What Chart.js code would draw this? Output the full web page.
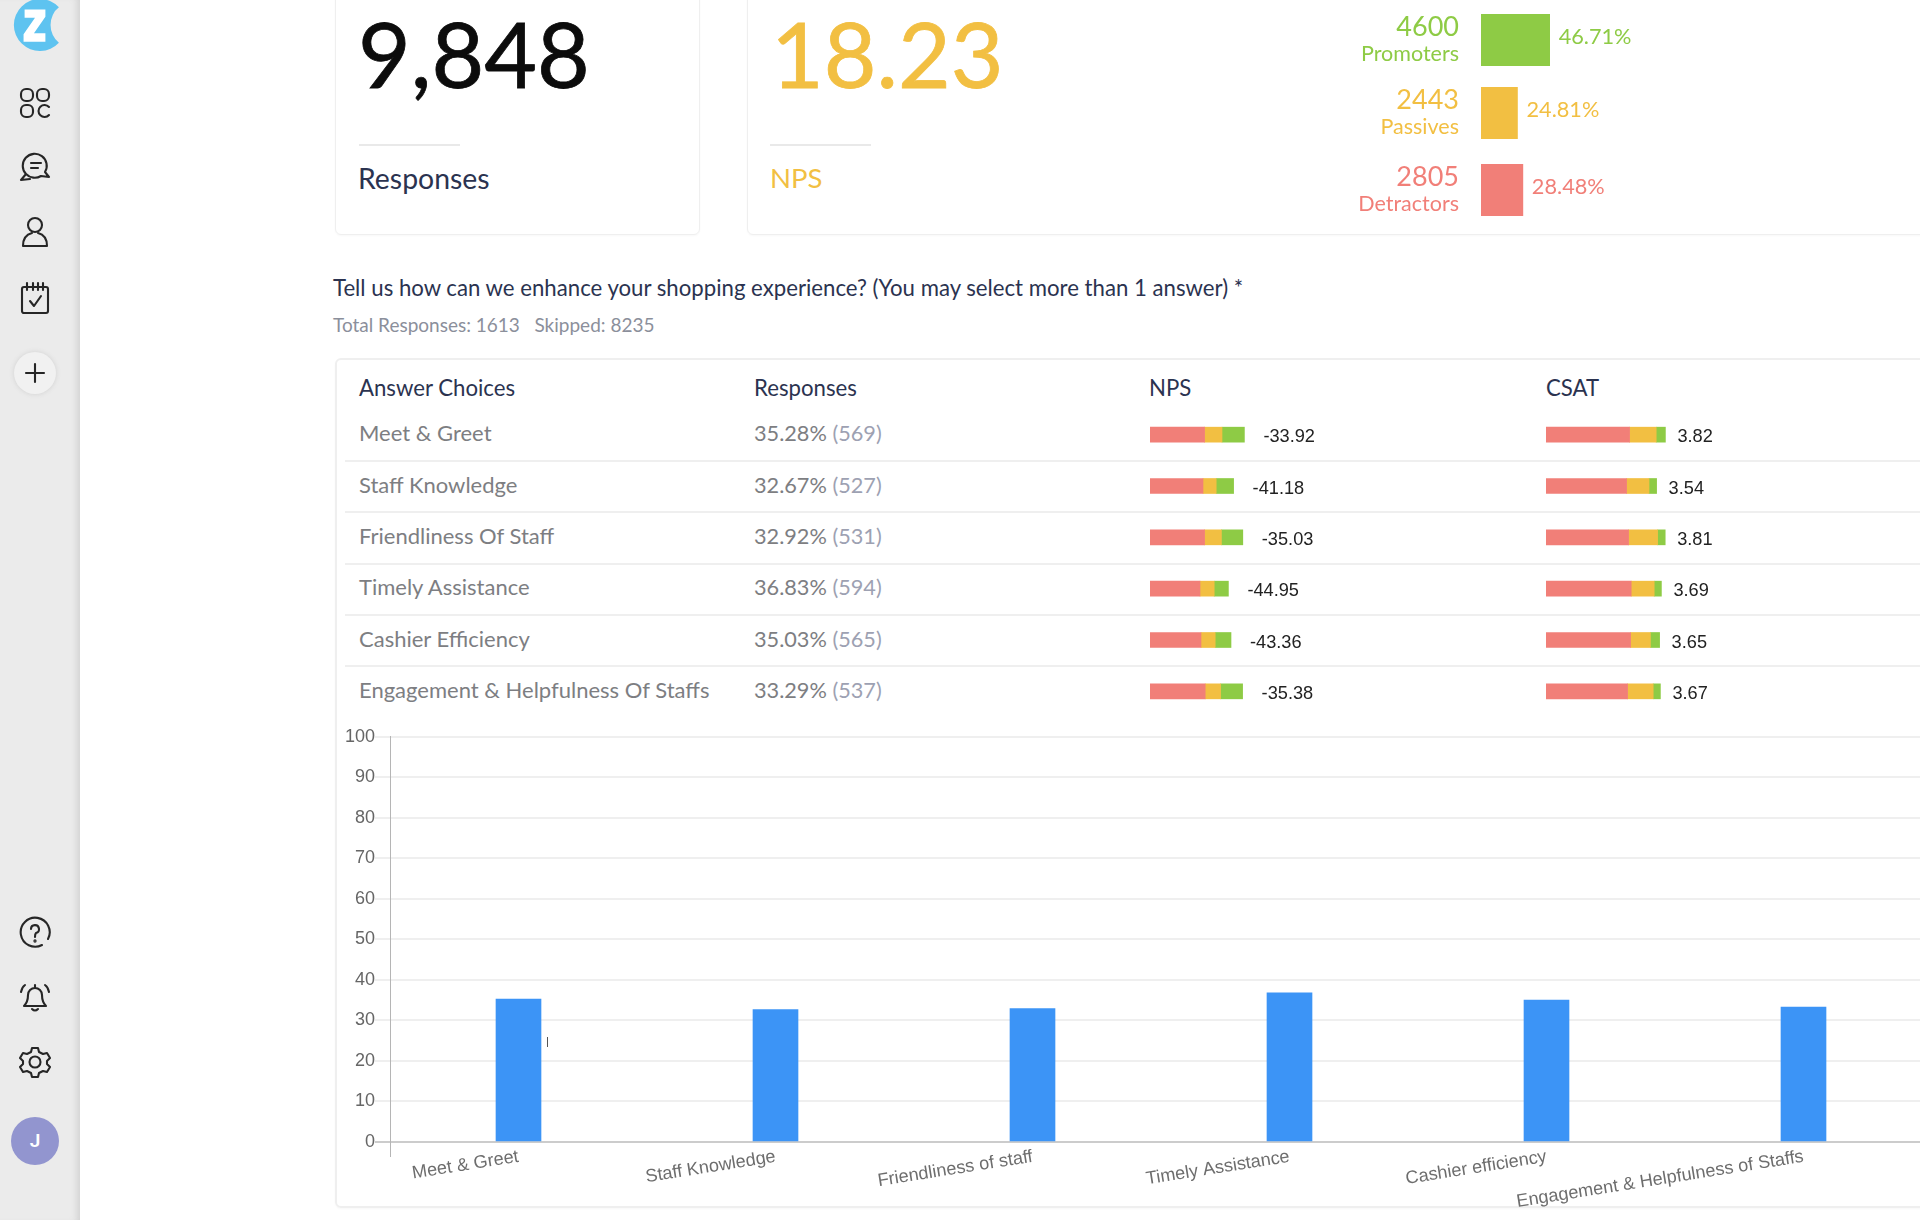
<!DOCTYPE html>
<html>
<head>
<meta charset="utf-8">
<title>Survey report</title>
<script src="https://cdn.jsdelivr.net/npm/chart.js@4"></script>
<style>
    html, body { margin: 0; width: 1920px; height: 1220px; overflow: hidden; background: #fff; font-family: Lato, sans-serif; }
    #page { position: relative; width: 1920px; height: 1220px; overflow: hidden; }
    #page > * { position: absolute; }
    .txt { white-space: nowrap; transform: translateY(-50%); line-height: 1; }
    .card { border: 1px solid #efefef; border-radius: 6px; box-sizing: border-box; box-shadow: 0 1px 2px rgba(0,0,0,.03); }
    .rule { background: #e9e9e9; height: 2px; }
    .sep { background: #efefef; height: 2px; left: 345px; width: 1575px; }
    #sidebar { left: 0; top: 0; width: 80px; height: 1220px; background: #ebebeb; box-shadow: inset -7px 0 6px -4px #d2d2d2; }
    #sidebar svg { position: absolute; left: 18px; width: 34px; height: 34px; fill: none; stroke: #262626; stroke-width: 2.1; stroke-linecap: round; stroke-linejoin: round; }
    canvas { display: block; }
    .big { font-size: 91px; -webkit-text-stroke: 0.8px currentColor; }
    .head { font-size: 22.2px; color: #2b3350; }
    .row { font-size: 22px; color: #7d7e82; }
    .pct { font-size: 21.7px; }
    .cnt { color: #9da1b2; }
    .score { font-family: "Liberation Sans", sans-serif; font-size: 18.2px; color: #222; }
</style>
</head>
<body>
<div id="page">
    <div id="sidebar">
        <svg viewBox="0 0 50 50" style="left:9px;top:-1px;width:52px;height:52px;stroke:none">
            <path d="M48 8 A25 25 0 1 0 48 42 A17 20 0 0 1 48 8 Z" fill="#5ec3f0"/>
            <path d="M15 10 H35 V17 L24 33 H35 V41 H14 V34 L25 18 H15 Z" fill="#fff"/>
        </svg>
        <svg viewBox="0 0 34 34" style="top:86px">
            <rect x="3" y="3" width="12" height="12" rx="5"/><rect x="19" y="3" width="12" height="12" rx="5"/>
            <rect x="3" y="19" width="12" height="12" rx="5"/><path d="M31 21 A6 6 0 1 0 31 29"/>
        </svg>
        <svg viewBox="0 0 34 34" style="top:150px">
            <path d="M8 24 A12 12 0 1 1 27 22 L31 27 L23 26 A12 12 0 0 1 8 24 L3 30 L12 29"/><path d="M13 13 H23 M13 18 H20"/>
        </svg>
        <svg viewBox="0 0 34 34" style="top:215px">
            <circle cx="17" cy="10" r="7"/><path d="M5 31 C5 22 10 19 14 18 M29 31 C29 22 24 19 20 18 M5 31 H29"/>
        </svg>
        <svg viewBox="0 0 34 34" style="top:281px">
            <rect x="4" y="6" width="26" height="26" rx="2"/><path d="M9 2 V9 M15 2 V9 M20 2 V9 M25 2 V9 M12 20 L16 25 L23 15"/>
        </svg>
        <div style="position:absolute;left:14px;top:352px;width:42px;height:42px;border-radius:50%;background:#f1f1f1;box-shadow:0 0 5px #d0d0d0"></div>
        <svg viewBox="0 0 34 34" style="top:356px"><path d="M17 8 V26 M8 17 H26"/></svg>
        <svg viewBox="0 0 34 34" style="top:916px">
            <path d="M24 29 A14.5 14.5 0 1 1 30 23"/><path d="M13 13 A4 4 0 1 1 18 17 Q17 18 17 21"/><circle cx="17" cy="25" r=".6"/>
        </svg>
        <svg viewBox="0 0 34 34" style="top:980px">
            <path d="M6 26 Q10 22 10 15 A7 7 0 0 1 24 15 Q24 22 28 26 Z M14 29 Q17 32 20 29 M17 5 V8 M3 12 Q4 7 7 5 M31 12 Q30 7 27 5"/>
        </svg>
        <svg viewBox="0 0 34 34" style="top:1045px">
            <circle cx="17" cy="17" r="5.5"/>
            <path d="M14 3 H20 L21 7 L25 9 L29 8 L32 13 L29 16 V19 L32 22 L29 27 L25 26 L21 28 L20 32 H14 L13 28 L9 26 L5 27 L2 22 L5 19 V16 L2 13 L5 8 L9 9 L13 7 Z"/>
        </svg>
        <div style="position:absolute;left:11px;top:1117px;width:48px;height:48px;border-radius:50%;background:#9295cf;color:#fff;font:600 19px/48px Roboto,sans-serif;text-align:center">J</div>
    </div>

    <div class="card" style="left:335px;top:-20px;width:365px;height:255px"></div>
    <div class="card" style="left:747px;top:-20px;width:1200px;height:255px"></div>
    <div class="txt big" style="left:358px;top:52px;color:#0c0c0c">9,848</div>
    <div class="rule" style="left:359px;top:144px;width:101px"></div>
    <div class="txt" style="left:358px;top:178px;font-size:28.4px;color:#2b3350">Responses</div>
    <div class="txt big" style="left:771px;top:52px;color:#f2bf42">18.23</div>
    <div class="rule" style="left:770px;top:144px;width:101px"></div>
    <div class="txt" style="left:770px;top:178px;font-size:27.5px;color:#f2bf42">NPS</div>

    <div class="txt" style="left:333px;top:288px;font-size:22.2px;color:#2b3350">Tell us how can we enhance your shopping experience? (You may select more than 1 answer) *</div>
    <div class="txt" style="left:333px;top:324px;font-size:19px;color:#8b8f9b">Total Responses: 1613 &nbsp; Skipped: 8235</div>

    <div class="card" style="left:335px;top:358px;width:1640px;height:850px;border-width:2px"></div>
    <div class="txt head" style="left:359px;top:388px">Answer Choices</div>
    <div class="txt head" style="left:754px;top:388px">Responses</div>
    <div class="txt head" style="left:1149px;top:388px">NPS</div>
    <div class="txt head" style="left:1546px;top:388px">CSAT</div>

    <canvas id="npsChart" width="200" height="308" style="left:1150px;top:409px"></canvas>
    <canvas id="csatChart" width="200" height="308" style="left:1546px;top:409px"></canvas>
    <canvas id="responseChart" width="1587" height="516" style="left:345px;top:726px"></canvas>
    <div style="left:547px;top:1037px;width:1px;height:10px;background:#555"></div>
</div>

<script>
    // answers table
    const answerChoices = ['Meet & Greet', 'Staff Knowledge', 'Friendliness Of Staff', 'Timely Assistance', 'Cashier Efficiency', 'Engagement & Helpfulness Of Staffs'];
    const responsePct = [35.28, 32.67, 32.92, 36.83, 35.03, 33.29];
    const responseCount = [569, 527, 531, 594, 565, 537];
    const npsScores = [-33.92, -41.18, -35.03, -44.95, -43.36, -35.38];
    const csatScores = [3.82, 3.54, 3.81, 3.69, 3.65, 3.67];

    // mini stacked bars
    const npsDetractors = [27.3, 26.5, 27.3, 25.0, 25.5, 27.6];
    const npsPassives = [8.7, 6.6, 8.4, 7.1, 7.1, 7.7];
    const npsPromoters = [11.2, 8.7, 10.7, 7.1, 7.9, 11.0];
    const csatLow = [41.8, 40.3, 41.3, 42.6, 42.3, 40.8];
    const csatMid = [13.3, 11.2, 14.5, 11.5, 9.9, 12.8];
    const csatHigh = [4.6, 3.8, 3.8, 3.6, 4.6, 3.6];

    // NPS summary
    const summaryNames = ['Promoters', 'Passives', 'Detractors'];
    const summaryCounts = [4600, 2443, 2805];
    const summaryPct = [46.71, 24.81, 28.48];

    // bottom chart
    const chartLabels = ['Meet & Greet', 'Staff Knowledge', 'Friendliness of staff', 'Timely Assistance', 'Cashier efficiency', 'Engagement & Helpfulness of Staffs'];
    const yTicks = [0, 10, 20, 30, 40, 50, 60, 70, 80, 90, 100];

    const RED = '#f17f78', YELLOW = '#f2bf42', GREEN = '#8ecb45', BLUE = '#3c94f6';
    const page = document.getElementById('page');

    Chart.defaults.animation = false;
    Chart.defaults.responsive = false;
    Chart.defaults.plugins.legend.display = false;
    Chart.defaults.plugins.tooltip.enabled = false;

    function addText(text, x, y, className, css) {
        const el = document.createElement('div');
        el.className = 'txt ' + (className || '');
        el.innerHTML = text;
        el.style.left = x + 'px';
        el.style.top = y + 'px';
        if (css) el.style.cssText += css;
        page.appendChild(el);
        return el;
    }

    function miniChart(id, series, labels, gap) {
        const canvas = document.getElementById(id);
        const chart = new Chart(canvas, {
            type: 'bar',
            data: {
                labels: answerChoices,
                datasets: series.map((data, i) => ({
                    data: data,
                    backgroundColor: [RED, YELLOW, GREEN][i],
                    barThickness: 15,
                    borderWidth: 0
                }))
            },
            options: {
                indexAxis: 'y',
                scales: {
                    x: { display: false, stacked: true, min: 0, max: 100 },
                    y: { display: false, stacked: true }
                }
            }
        });
        // score sits right after the end of the stack
        chart.getDatasetMeta(2).data.forEach((bar, i) => {
            addText(labels[i], canvas.offsetLeft + bar.x + gap, canvas.offsetTop + bar.y + 1.5, 'score');
        });
        return chart;
    }

    miniChart('npsChart', [npsDetractors, npsPassives, npsPromoters], npsScores.map(v => v.toFixed(2)), 19);
    const csat = miniChart('csatChart', [csatLow, csatMid, csatHigh], csatScores.map(v => v.toFixed(2)), 12);

    // table rows follow the rows of the mini charts
    answerChoices.forEach((name, i) => {
        const y = 409 + csat.scales.y.getPixelForValue(i);
        addText(name, 359, y - 1.5, 'row');
        addText(responsePct[i].toFixed(2) + '% <span class="cnt">(' + responseCount[i] + ')</span>', 754, y - 0.5, 'row pct');
        if (i < answerChoices.length - 1) {
            const sep = document.createElement('div');
            sep.className = 'sep';
            sep.style.top = (y + 25.2) + 'px';
            page.appendChild(sep);
        }
    });

    // NPS summary, one small chart per group
    const summaryColors = [GREEN, YELLOW, RED];
    const summaryTops = [14, 87, 164];
    summaryNames.forEach((name, i) => {
        const canvas = document.createElement('canvas');
        canvas.width = 147;
        canvas.height = 52;
        canvas.style.left = '1481px';
        canvas.style.top = summaryTops[i] + 'px';
        page.appendChild(canvas);
        const chart = new Chart(canvas, {
            type: 'bar',
            data: {
                labels: [name],
                datasets: [{ data: [summaryPct[i]], backgroundColor: summaryColors[i], categoryPercentage: 1, barPercentage: 1, borderWidth: 0 }]
            },
            options: {
                indexAxis: 'y',
                scales: {
                    x: { display: false, min: 0, max: 100 },
                    y: { display: false }
                }
            }
        });
        const bar = chart.getDatasetMeta(0).data[0];
        const color = summaryColors[i];
        addText(summaryPct[i].toFixed(2) + '%', 1481 + bar.x + 9, summaryTops[i] + 23, '', 'font-size:21.7px;color:' + color);
        addText(summaryCounts[i], 0, summaryTops[i] + 11, '', 'left:auto;right:461px;font-size:27px;color:' + color);
        addText(name, 0, summaryTops[i] + 40, '', 'left:auto;right:461px;font-size:21.5px;color:' + color);
    });

    new Chart(document.getElementById('responseChart'), {
        type: 'bar',
        data: {
            labels: chartLabels,
            datasets: [{ data: responsePct, backgroundColor: BLUE, barThickness: 45, borderWidth: 0 }]
        },
        options: {
            layout: { padding: { top: 10 } },
            scales: {
                x: {
                    afterFit: s => { s.height = 100; },
                    border: { color: '#cccccc', width: 2 },
                    grid: {
                        drawOnChartArea: false,
                        tickLength: 15,
                        color: c => c.index === 0 ? '#b5b5b5' : 'transparent'
                    },
                    ticks: {
                        autoSkip: false,
                        minRotation: 9,
                        maxRotation: 9,
                        padding: -11,
                        color: '#6d6d6d',
                        font: { family: 'Liberation Sans', size: 18.1 }
                    }
                },
                y: {
                    min: 0,
                    max: 100,
                    afterFit: s => { s.width = 45; },
                    afterBuildTicks: s => { s.ticks = yTicks.map(v => ({ value: v })); },
                    border: { color: '#b5b5b5', width: 1 },
                    grid: {
                        lineWidth: 2,
                        tickLength: 15,
                        color: c => c.tick && c.tick.value === 0 ? '#cccccc' : '#efefef'
                    },
                    ticks: {
                        padding: 0,
                        color: '#666666',
                        font: { family: 'Liberation Sans', size: 18 }
                    }
                }
            }
        }
    });
</script>
</body>
</html>
